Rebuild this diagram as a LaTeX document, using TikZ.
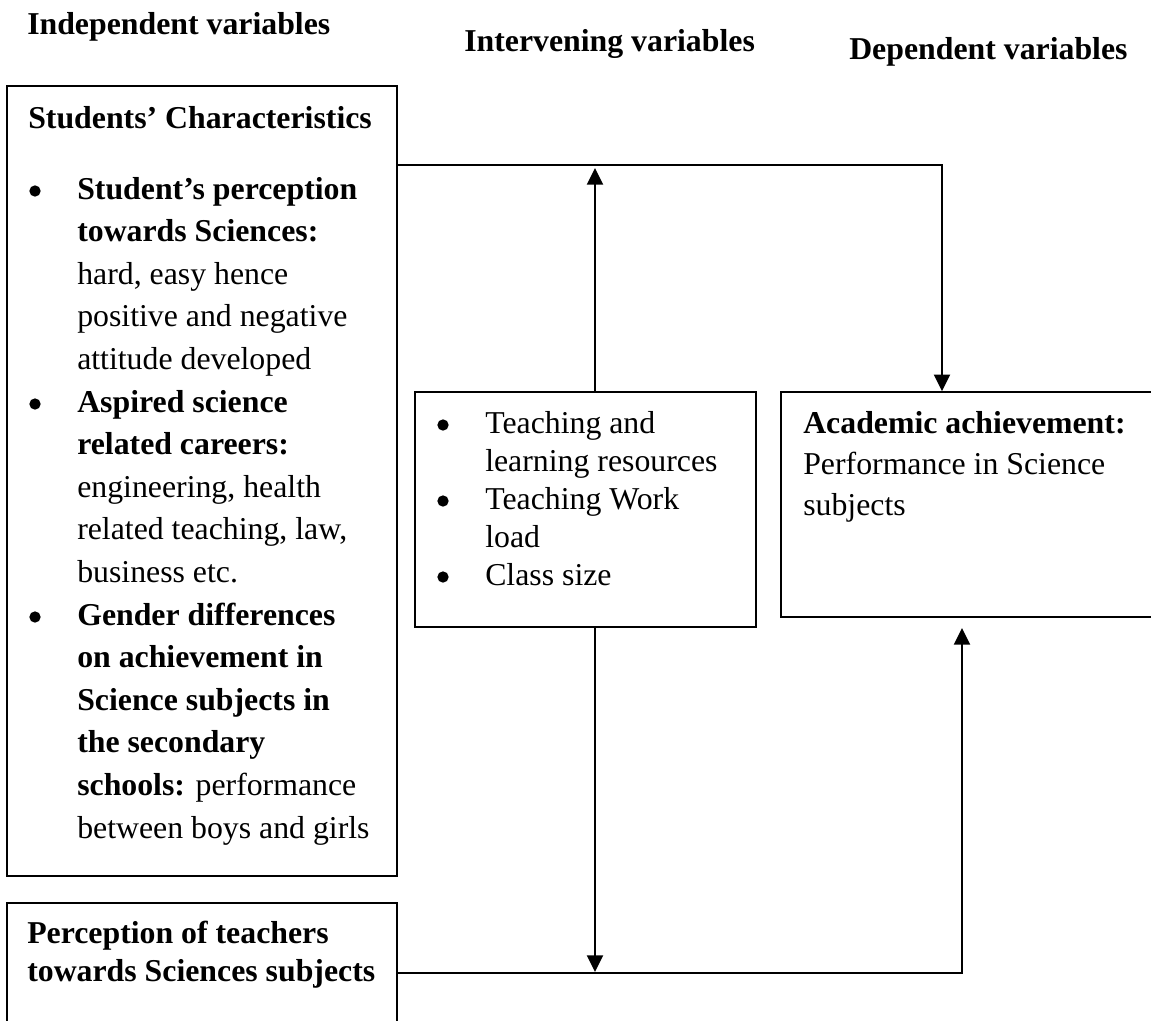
\documentclass[tikz,border=0pt]{standalone}
\usepackage{fontspec}
\setmainfont{Liberation Serif}
\usetikzlibrary{arrows.meta,fit}
\newcommand\fsz{\fontsize{23.85pt}{28pt}\selectfont}
\begin{document}
\begin{tikzpicture}[x=0.75pt,y=-0.75pt,
  box/.style={draw, line width=1.2pt, inner sep=0pt, rectangle},
  txt/.style={anchor=base west, inner sep=0pt, font=\fsz},
  hd/.style={anchor=base west, inner sep=0pt, font=\fsz\bfseries},
  bul/.style={circle, fill, inner sep=0pt, minimum size=8.5pt},
  conn/.style={line width=1.5pt},
  arrowline/.style={conn, -{Triangle[length=12.5pt,width=12pt]}}]
\useasboundingbox (0,0) rectangle (1151,1020);
\clip (0,0) rectangle (1151,1020);

% headers
\node[hd] (h1) at (27,35) {Independent variables};
\node[hd] (h2) at (464,52) {Intervening variables};
\node[hd] (h3) at (849,60) {Dependent variables};

% boxes
\node[box, fit={(7,86) (397,876)}] (b1) {};
\node[box, fit={(7,903) (397,1045)}] (b2) {};
\node[box, fit={(415,392) (756,627)}] (mid) {};
\node[box, fit={(781,392) (1160,617)}] (dep) {};

% left box text
\node[hd] (lh) at (28,128) {Students’ Characteristics};
\foreach \t [count=\i from 0] in {
  {\textbf{Student’s perception}},
  {\textbf{towards Sciences:}},
  {hard, easy hence},
  {positive and negative},
  {attitude developed},
  {\textbf{Aspired science}},
  {\textbf{related careers:}},
  {engineering, health},
  {related teaching, law,},
  {business etc.},
  {\textbf{Gender differences}},
  {\textbf{on achievement in}},
  {\textbf{Science subjects in}},
  {\textbf{the secondary}},
  {\textbf{schools:} performance},
  {between boys and girls}}
  \node[txt] (L\i) at (77,{199+42.6*\i}) {\t};
\node[bul] (lb1) at (35,191) {};
\node[bul] (lb2) at (35,{191+42.6*5}) {};
\node[bul] (lb3) at (35,{191+42.6*10}) {};

% middle box text
\foreach \t [count=\i from 0] in {
  {Teaching and},
  {learning resources},
  {Teaching Work},
  {load},
  {Class size}}
  \node[txt] (M\i) at (485,{433+38*\i}) {\t};
\node[bul] (mb1) at (443,425) {};
\node[bul] (mb2) at (443,501) {};
\node[bul] (mb3) at (443,577) {};

% right box text
\node[txt] (r0) at (803,433) {\textbf{Academic achievement:}};
\node[txt] (r1) at (803,474) {Performance in Science};
\node[txt] (r2) at (803,515) {subjects};

% bottom box text
\node[hd] (p0) at (27,943) {Perception of teachers};
\node[hd] (p1) at (27,981) {towards Sciences subjects};

% connectors
\coordinate (ct) at (942,165);
\draw[arrowline] (b1.east |- ct) -| (dep.north -| ct);
\coordinate (cu) at (595,168);
\draw[arrowline] (mid.north -| cu) -- (cu);
\coordinate (cd) at (595,972);
\draw[arrowline] (mid.south -| cd) -- (cd);
\coordinate (cb) at (962,973);
\coordinate (cbt) at (962,628);
\draw[arrowline] (b2.east |- cb) -| (cbt);
\end{tikzpicture}
\end{document}
